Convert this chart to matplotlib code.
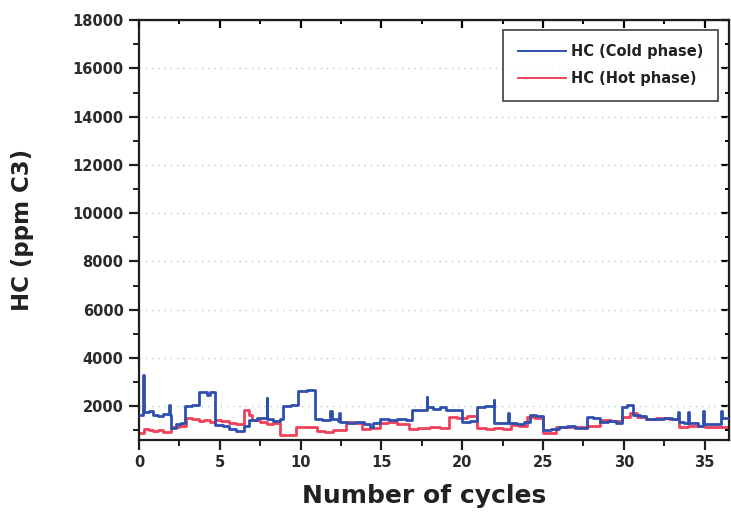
import matplotlib
matplotlib.use("Agg")
import matplotlib.pyplot as plt
from matplotlib.ticker import MultipleLocator

# HC emissions per cycle, step-wise traces (cycle, ppm C3)
cold_cycle = [0.0, 0.28, 0.34, 0.6, 0.9, 1.2, 1.5, 1.85, 1.92, 2.0, 2.3, 2.6, 2.85, 3.3, 3.7,
              4.2, 4.4, 4.7, 5.2, 5.6, 6.0, 6.5, 6.8, 7.3, 7.9, 7.95, 8.3, 8.7, 8.9, 9.4,
              9.85, 10.4, 10.9, 11.3, 11.85, 11.92, 12.3, 12.4, 12.47, 12.9, 13.4, 13.9, 14.3,
              14.5, 14.9, 15.5, 16.0, 16.5, 16.9, 17.4, 17.8, 17.85, 18.2, 18.6, 19.0, 19.5,
              20.0, 20.5, 20.9, 21.4, 21.95, 22.0, 22.5, 22.85, 22.9, 23.4, 23.8, 24.2, 24.6,
              25.0, 25.5, 26.0, 26.5, 27.0, 27.7, 28.1, 28.5, 29.0, 29.5, 29.9, 30.2, 30.6,
              31.0, 31.4, 32.0, 32.5, 33.0, 33.35, 33.41, 33.7, 34.0, 34.06, 34.6, 34.9,
              34.96, 35.4, 36.0, 36.06, 36.6]
cold_hc = [1650, 3300, 1760, 1800, 1640, 1600, 1680, 2050, 1650, 1100, 1250, 1300, 2000, 2050,
           2580, 2480, 2600, 1220, 1180, 1050, 980, 1200, 1420, 1500, 2350, 1450, 1400, 1450,
           2020, 2060, 2620, 2680, 1480, 1440, 1800, 1450, 1380, 1720, 1360, 1290, 1330, 1250,
           1150, 1300, 1460, 1420, 1480, 1440, 1830, 1850, 2400, 1970, 1900, 1950, 1830, 1860,
           1350, 1380, 1970, 2000, 2250, 1290, 1300, 1700, 1290, 1250, 1350, 1630, 1600, 1000,
           1050, 1140, 1180, 1100, 1560, 1520, 1350, 1400, 1320, 1970, 2050, 1630, 1600, 1490,
           1450, 1520, 1460, 1750, 1350, 1300, 1750, 1320, 1200, 1800, 1250, 1250, 1800, 1500,
           1500]

hot_cycle = [0.0, 0.3, 0.6, 0.9, 1.2, 1.5, 2.0, 2.3, 2.5, 2.9, 3.3, 3.7, 4.0, 4.4, 4.7, 5.1,
             5.6, 6.0, 6.5, 6.8, 7.0, 7.5, 7.9, 8.3, 8.7, 9.2, 9.75, 10.3, 11.0, 11.5, 12.0,
             12.8, 13.3, 13.8, 14.3, 14.9, 15.4, 16.0, 16.7, 17.3, 18.0, 18.6, 19.2, 19.7,
             20.3, 20.9, 21.5, 22.0, 22.5, 23.0, 23.5, 24.0, 24.5, 25.0, 25.4, 25.8, 26.3,
             27.3, 27.8, 28.5, 29.2, 29.9, 30.4, 30.8, 31.4, 32.0, 32.8, 33.4, 34.0, 35.0,
             35.8, 36.6]
hot_hc = [880, 1050, 1000, 960, 1000, 950, 1130, 1150, 1200, 1500, 1460, 1380, 1440, 1350,
          1420, 1380, 1300, 1250, 1830, 1650, 1420, 1350, 1250, 1300, 820, 800, 1140, 1120,
          980, 950, 1000, 1350, 1320, 1070, 1100, 1290, 1330, 1250, 1070, 1100, 1140, 1100,
          1560, 1520, 1580, 1080, 1050, 1100, 1050, 1210, 1180, 1560, 1520, 880, 900, 1140,
          1120, 1140, 1160, 1420, 1380, 1560, 1700, 1560, 1490, 1520, 1460, 1140, 1180, 1120,
          1140, 1140]

x_ticks = [0, 5, 10, 15, 20, 25, 30, 35]
y_ticks = [2000, 4000, 6000, 8000, 10000, 12000, 14000, 16000, 18000]

plt.rcParams["font.family"] = ["DejaVu Sans"]
plt.rcParams["font.weight"] = "bold"

fig = plt.figure(figsize=(7.31, 5.18), dpi=100)
ax = fig.add_axes([0.190, 0.1506, 0.807, 0.8105])

cold_color = "#2f4fae"
hot_color = "#f0405a"
ax.plot(cold_cycle, cold_hc, drawstyle="steps-post", color=cold_color, lw=2.0,
        label="HC (Cold phase)", zorder=3)
ax.plot(hot_cycle, hot_hc, drawstyle="steps-post", color=hot_color, lw=2.0,
        label="HC (Hot phase)", zorder=2)

ax.set_xlim(0, 36.5)
ax.set_ylim(600, 18000)
ax.set_xticks(x_ticks)
ax.set_yticks(y_ticks)
ax.xaxis.set_minor_locator(MultipleLocator(2.5))
ax.yaxis.set_minor_locator(MultipleLocator(1000))

for s in ax.spines.values():
    s.set_linewidth(1.6)
    s.set_color("#1e1e1e")

ax.tick_params(which="major", direction="out", length=7, width=1.6, color="#1e1e1e",
               labelsize=10.5, pad=4)
ax.tick_params(which="minor", direction="out", length=4, width=1.4, color="#1e1e1e")
for lab in ax.get_xticklabels() + ax.get_yticklabels():
    lab.set_fontweight("bold")
    lab.set_color("#2a2a2a")

# mirrored inward ticks on top and right
top = ax.secondary_xaxis("top")
top.set_xticks(x_ticks)
top.xaxis.set_minor_locator(MultipleLocator(2.5))
top.tick_params(which="major", direction="in", length=6, width=1.6, labeltop=False)
top.tick_params(which="minor", direction="in", length=3, width=1.4)
right = ax.secondary_yaxis("right")
right.set_yticks(y_ticks)
right.yaxis.set_minor_locator(MultipleLocator(1000))
right.tick_params(which="major", direction="in", length=6, width=1.6, labelright=False)
right.tick_params(which="minor", direction="in", length=3, width=1.4)

ax.yaxis.grid(True, which="major", linestyle=(0, (1, 4)), color="#a9c4c4", lw=0.9)
ax.set_axisbelow(True)

ax.set_xlabel("Number of cycles", fontsize=18, fontweight="bold", color="#222222")
ax.set_ylabel("HC (ppm C3)", fontsize=16.5, fontweight="bold", color="#222222")
ax.xaxis.set_label_coords(0.483, -0.106)
ax.yaxis.set_label_coords(-0.178, 0.5)

leg = ax.legend(loc="upper right", bbox_to_anchor=(0.982, 0.977), fontsize=10.5,
                frameon=True, fancybox=False, edgecolor="#222222", handlelength=3.3,
                borderpad=1.0, labelspacing=0.8, handletextpad=0.35, borderaxespad=0)
leg.get_frame().set_linewidth(1.3)
for t in leg.get_texts():
    t.set_fontweight("bold")
    t.set_color("#222222")
for h in leg.get_lines():
    h.set_linewidth(1.4)

fig.savefig("out.png", dpi=100)
